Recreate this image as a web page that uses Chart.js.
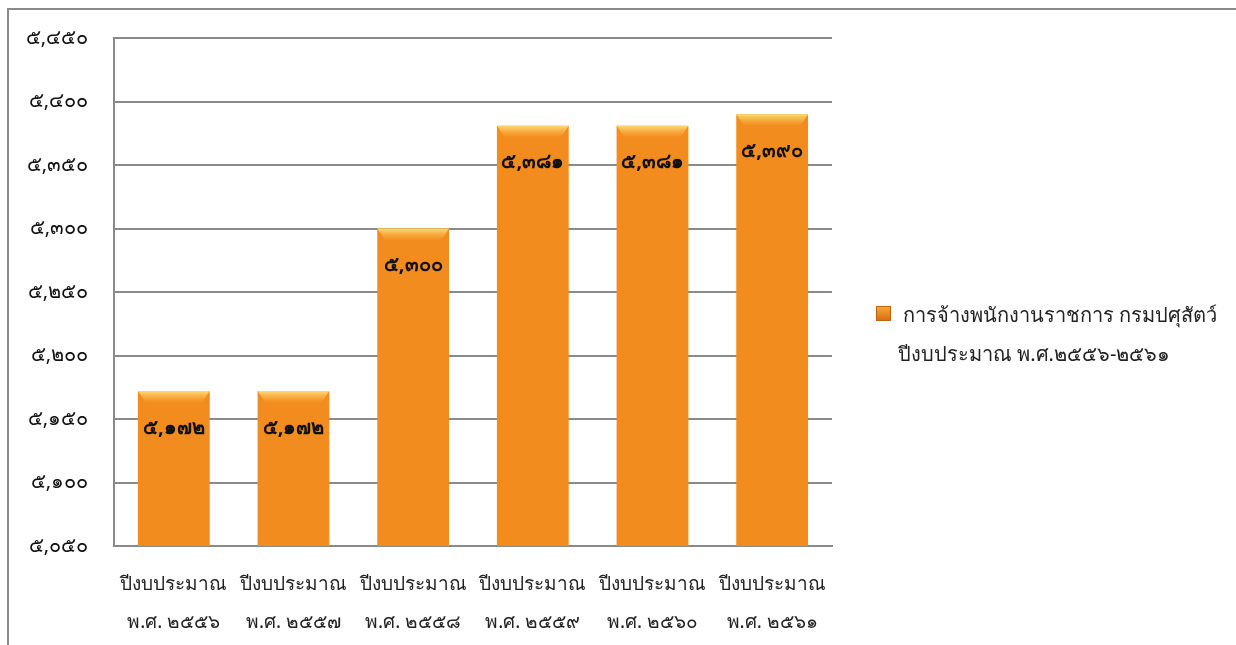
<!DOCTYPE html>
<html>
<head>
<meta charset="utf-8">
<script src="https://cdn.jsdelivr.net/npm/chart.js@4.4.1/dist/chart.umd.min.js"></script>
<style>
  html, body { margin: 0; padding: 0; background: #fff; }
  body { width: 1236px; height: 645px; position: relative; overflow: hidden; font-family: Tahoma, "Noto Sans", "DejaVu Sans", sans-serif; }
  #frame { position: absolute; left: 7px; top: 8px; width: 1240px; height: 660px; border-left: 2px solid #8a8a8a; border-top: 2px solid #8a8a8a; box-sizing: border-box; }
  #wrap { position: absolute; left: 0; top: 0; width: 1236px; height: 645px; }
  #legend { position: absolute; left: 876px; top: 295px; font-size: 20px; color: #222; line-height: 39px; }
  #legend .box { display: inline-block; width: 13px; height: 13px; background: linear-gradient(#f9a43a, #d8700f); border: 1px solid #c0650c; vertical-align: middle; margin-right: 12px; position: relative; top: -3px; }
  #legend .l2 { padding-left: 22px; }
</style>
</head>
<body>
<div id="frame"></div>
<div id="wrap"><canvas id="c" width="1236" height="645"></canvas></div>
<div id="legend"><div><span class="box"></span>การจ้างพนักงานราชการ กรมปศุสัตว์</div><div class="l2">ปีงบประมาณ พ.ศ.๒๕๕๖-๒๕๖๑</div></div>
<script>
const categoriesLine1 = ['ปีงบประมาณ', 'ปีงบประมาณ', 'ปีงบประมาณ', 'ปีงบประมาณ', 'ปีงบประมาณ', 'ปีงบประมาณ'];
const categoriesLine2 = ['พ.ศ. ๒๕๕๖', 'พ.ศ. ๒๕๕๗', 'พ.ศ. ๒๕๕๘', 'พ.ศ. ๒๕๕๙', 'พ.ศ. ๒๕๖๐', 'พ.ศ. ๒๕๖๑'];
const employees = [5172, 5172, 5300, 5381, 5381, 5390];
const seriesName = 'การจ้างพนักงานราชการ กรมปศุสัตว์ ปีงบประมาณ พ.ศ.๒๕๕๖-๒๕๖๑';
const yMin = 5050, yMax = 5450, yStep = 50;

const thaiDigits = ['๐','๑','๒','๓','๔','๕','๖','๗','๘','๙'];
function toThai(n) {
  const s = Number(n).toLocaleString('en-US');
  return s.replace(/[0-9]/g, d => thaiDigits[+d]);
}

const labels = categoriesLine1.map((l, i) => [l, categoriesLine2[i]]);
const FONT = 'Tahoma, "Noto Sans", "DejaVu Sans", sans-serif';

function barFill(ctx) {
  const chart = ctx.chart;
  const el = ctx.element;
  if (!el || el.x === undefined || !chart.chartArea) return '#f28c1e';
  const w = el.width || 70;
  const g = chart.ctx.createLinearGradient(el.x - w / 2, 0, el.x + w / 2, 0);
  g.addColorStop(0, '#cf6a0c');
  g.addColorStop(0.1, '#ec861c');
  g.addColorStop(0.5, '#f99a2c');
  g.addColorStop(0.9, '#ec861c');
  g.addColorStop(1, '#c8650b');
  return g;
}

const bevelPlugin = {
  id: 'bevel',
  afterDatasetsDraw(chart) {
    const ctx = chart.ctx;
    const meta = chart.getDatasetMeta(0);
    ctx.save();
    meta.data.forEach((bar) => {
      const x0 = bar.x - bar.width / 2, x1 = bar.x + bar.width / 2;
      const top = bar.y, bottom = bar.base;
      const gt = ctx.createLinearGradient(0, top, 0, top + 12);
      gt.addColorStop(0, 'rgba(255,222,125,0.95)');
      gt.addColorStop(1, 'rgba(255,190,80,0)');
      ctx.fillStyle = gt;
      ctx.beginPath();
      ctx.moveTo(x0, top); ctx.lineTo(x1, top); ctx.lineTo(x1 - 8, top + 12); ctx.lineTo(x0 + 8, top + 12); ctx.closePath();
      ctx.fill();
      const gb = ctx.createLinearGradient(0, bottom - 10, 0, bottom);
      gb.addColorStop(0, 'rgba(180,90,10,0)');
      gb.addColorStop(1, 'rgba(170,85,10,0.55)');
      ctx.fillStyle = gb;
      ctx.fillRect(x0, bottom - 10, bar.width, 10);
    });
    ctx.restore();
  }
};

const valueLabelPlugin = {
  id: 'valueLabels',
  afterDatasetsDraw(chart) {
    const ctx = chart.ctx;
    const meta = chart.getDatasetMeta(0);
    ctx.save();
    ctx.font = 'bold 20px ' + FONT;
    ctx.fillStyle = '#111';
    ctx.textAlign = 'center';
    ctx.textBaseline = 'middle';
    meta.data.forEach((bar, i) => {
      ctx.fillText(toThai(employees[i]), bar.x, bar.y + 37);
    });
    ctx.restore();
  }
};

new Chart(document.getElementById('c'), {
  type: 'bar',
  data: {
    labels: labels,
    datasets: [{
      label: seriesName,
      data: employees,
      backgroundColor: barFill,
      borderWidth: 0,
      categoryPercentage: 0.6,
      barPercentage: 1.0
    }]
  },
  options: {
    responsive: false,
    animation: false,
    events: [],
    layout: { padding: { left: 20, right: 404, top: 32, bottom: 4 } },
    plugins: { legend: { display: false }, tooltip: { enabled: false } },
    scales: {
      x: {
        grid: { display: false, drawTicks: false },
        border: { display: true, color: '#8a8a8a', width: 2 },
        ticks: { color: '#222', font: { family: FONT, size: 19, lineHeight: 2.0 }, padding: 20, maxRotation: 0, autoSkip: false },
        afterFit(scale) { scale.height = 95; }
      },
      y: {
        min: yMin, max: yMax,
        grid: { color: '#8a8a8a', lineWidth: 2, drawTicks: false },
        border: { display: true, color: '#8a8a8a', width: 2 },
        ticks: { stepSize: yStep, color: '#111', font: { family: FONT, size: 20 }, padding: 26, callback: v => toThai(v) },
        afterFit(scale) { scale.width = 94; }
      }
    }
  },
  plugins: [bevelPlugin, valueLabelPlugin]
});
</script>
</body>
</html>
